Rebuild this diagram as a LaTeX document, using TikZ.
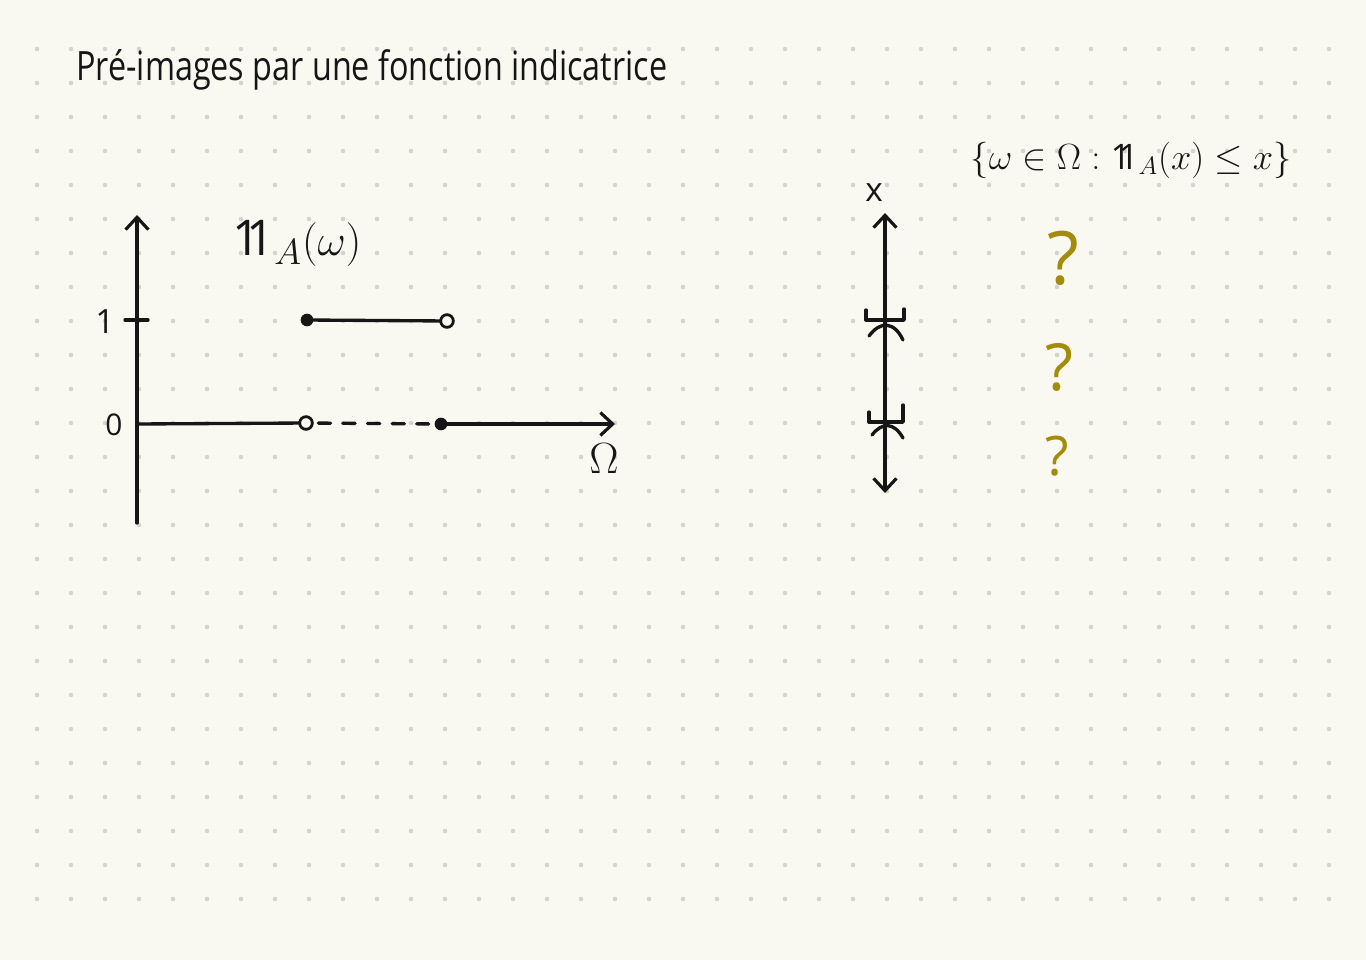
\documentclass[tikz,border=0pt]{standalone}
\usepackage{fontspec}
\setmainfont{Open Sans}
\usetikzlibrary{arrows.meta}

\definecolor{papier}{RGB}{249,249,242}
\definecolor{pointille}{RGB}{212,212,206}
\definecolor{encre}{RGB}{22,22,22}
\definecolor{ocre}{RGB}{163,140,10}

\newcommand{\indicatrice}{\mathrm{1\!\!1}}

\tikzset{
  pointe/.tip={Straight Barb[length=7pt,width=13pt,line width=1.8pt]},
  trait/.style={line width=1.9pt, draw=encre, line cap=round, line join=round},
  plein/.style={fill=encre},
  vide/.style={draw=encre, fill=papier, line width=1.6pt},
  etiquette/.style={text=encre, inner sep=0pt},
}

\begin{document}
\begin{tikzpicture}[x=0.02cm,y=-0.02cm]

    % Fond
    \fill[papier] (0,0) rectangle (1366,960);
    \foreach \i in {1,...,39}
      \foreach \j in {1,...,26}
        \fill[pointille] (3+34*\i,15+34*\j) circle (1.3pt);

    % Titre
    \node[etiquette, anchor=west, font=\fontsize{23}{27}\selectfont] (titre) at (76,70) {\scalebox{0.8}[1]{Pré-images par une fonction indicatrice}};

    % Axes
    \coordinate (O) at (137,424);
    \coordinate (haut) at (137,215);
    \coordinate (bas) at (137,523);
    \coordinate (droite) at (615,424);
    \draw[trait, -pointe] (bas) -- (haut);

    % Graduations
    \coordinate (g1) at (125,320);
    \coordinate (g2) at (148,320);
    \draw[trait] (g1) -- (g2);
    \node[etiquette, font=\fontsize{19}{22}\selectfont] (un) at (105,322) {1};
    \node[etiquette, font=\fontsize{17}{20}\selectfont] (zero) at (114,425) {0};

    % Fonction indicatrice
    \coordinate (a1) at (307,320);
    \coordinate (b1) at (447,321);
    \coordinate (a0) at (306,423);
    \coordinate (b0) at (441,424);
    \draw[trait] (a1) -- (b1);
    \draw[trait] (O) -- (a0);
    \draw[trait, dash pattern=on 7pt off 7pt, shorten <=7pt, shorten >=7pt] (a0) -- (b0);
    \draw[trait, -pointe] (b0) -- (droite);
    \fill[plein] (a1) circle (3.6pt);
    \draw[vide] (b1) circle (3.6pt);
    \draw[vide] (a0) circle (3.6pt);
    \fill[plein] (b0) circle (3.6pt);

    % Labels
    \node[etiquette, font=\fontsize{24}{28}\selectfont] (omega) at (604,459) {$\Omega$};
    \node[etiquette, font=\fontsize{28}{32}\selectfont] (indic) at (297,243) {$\indicatrice_A(\omega)$};

    % Axe des x
    \coordinate (xh) at (885,213);
    \coordinate (xb) at (885,493);
    \draw[trait, pointe-pointe] (xb) -- (xh);
    \node[etiquette, font=\fontsize{19}{22}\selectfont] (x) at (874,193) {x};

    % Intervalles
    \draw[trait] (866,310) -- (866,320) -- (904,320) -- (904,309);
    \draw[trait] (869,336) .. controls (880,321) and (894,321) .. (903,340);
    \draw[trait] (869,412) -- (869,422) -- (903,422) -- (903,405);
    \draw[trait] (872,435) .. controls (882,422) and (894,422) .. (903,438);

    % Ensemble
    \node[etiquette, font=\fontsize{20}{24}\selectfont] (ensemble) at (1131,160) {$\{\omega\in\Omega : \indicatrice_A(x)\le x\}$};

    % Questions
    \node[text=ocre, inner sep=0pt, font=\fontsize{42}{48}\selectfont] (q1) at (1063,258) {?};
    \node[text=ocre, inner sep=0pt, font=\fontsize{37}{42}\selectfont] (q2) at (1059,367) {?};
    \node[text=ocre, inner sep=0pt, font=\fontsize{31}{36}\selectfont] (q3) at (1057,456) {?};

\end{tikzpicture}
\end{document}
